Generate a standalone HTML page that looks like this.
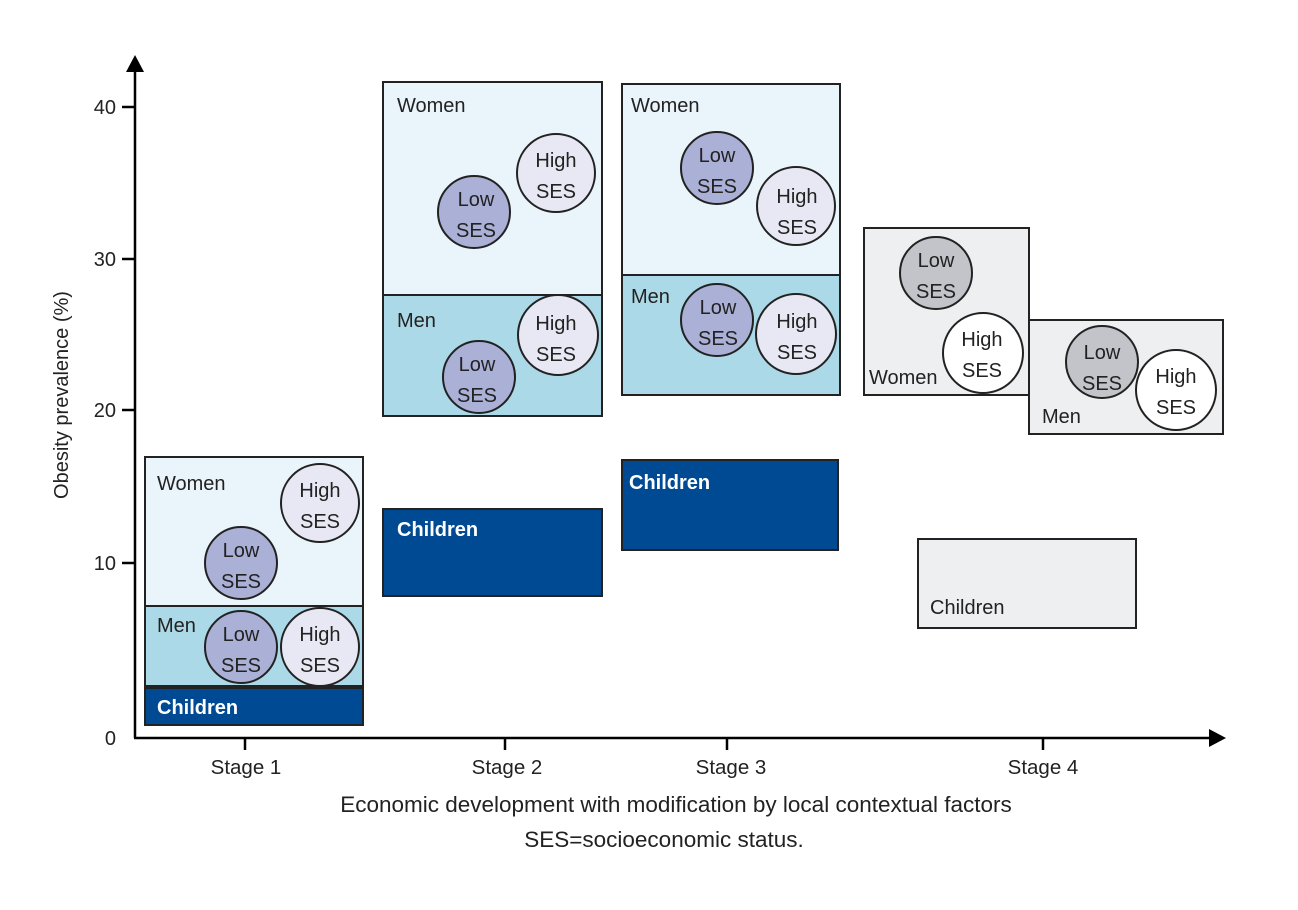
<!DOCTYPE html>
<html><head><meta charset="utf-8"><style>
html,body{margin:0;padding:0;background:#fff;}
svg{display:block;font-family:"Liberation Sans",sans-serif;}
</style></head><body>
<svg width="1298" height="910" viewBox="0 0 1298 910" xmlns="http://www.w3.org/2000/svg">
<g stroke="#000" stroke-width="2.5" fill="none">
<line x1="135" y1="70" x2="135" y2="738"/>
<line x1="134" y1="738" x2="1212" y2="738"/>
<line x1="122" y1="107" x2="135" y2="107"/>
<line x1="122" y1="259" x2="135" y2="259"/>
<line x1="122" y1="410" x2="135" y2="410"/>
<line x1="122" y1="563" x2="135" y2="563"/>
<line x1="245" y1="738" x2="245" y2="750"/>
<line x1="505" y1="738" x2="505" y2="750"/>
<line x1="727" y1="738" x2="727" y2="750"/>
<line x1="1043" y1="738" x2="1043" y2="750"/>
</g>
<polygon points="135,55 126,72 144,72" fill="#000"/>
<polygon points="1226,738 1209,729 1209,747" fill="#000"/>
<g font-size="20" fill="#222" text-anchor="end">
<text x="116" y="114">40</text><text x="116" y="266">30</text><text x="116" y="417">20</text><text x="116" y="570">10</text><text x="116" y="745">0</text>
</g>
<text transform="translate(68,395) rotate(-90)" font-size="20" text-anchor="middle" fill="#222">Obesity prevalence (%)</text>
<g font-size="20.5" fill="#222" text-anchor="middle">
<text x="246" y="774">Stage 1</text><text x="507" y="774">Stage 2</text><text x="731" y="774">Stage 3</text><text x="1043" y="774">Stage 4</text>
</g>
<g font-size="22.5" fill="#222" text-anchor="middle">
<text x="676" y="812">Economic development with modification by local contextual factors</text>
<text x="664" y="847">SES=socioeconomic status.</text>
</g>
<g stroke="#222" stroke-width="2">
<rect x="145" y="457" width="218" height="149" fill="#e9f4fb"/>
<rect x="145" y="606" width="218" height="80" fill="#acd9e7"/>
<rect x="145" y="688" width="218" height="37" fill="#004a94"/>
<rect x="383" y="82" width="219" height="213" fill="#e9f4fb"/>
<rect x="383" y="295" width="219" height="121" fill="#acd9e7"/>
<rect x="383" y="509" width="219" height="87" fill="#004a94"/>
<rect x="622" y="84" width="218" height="191" fill="#e9f4fb"/>
<rect x="622" y="275" width="218" height="120" fill="#acd9e7"/>
<rect x="622" y="460" width="216" height="90" fill="#004a94"/>
<rect x="864" y="228" width="165" height="167" fill="#eeeff1"/>
<rect x="1029" y="320" width="194" height="114" fill="#eeeff1"/>
<rect x="918" y="539" width="218" height="89" fill="#eeeff1"/>
<circle cx="320" cy="503" r="39" fill="#e8e8f4"/>
<circle cx="241" cy="563" r="36" fill="#aab0d6"/>
<circle cx="241" cy="647" r="36" fill="#aab0d6"/>
<circle cx="320" cy="647" r="39" fill="#e8e8f4"/>
<circle cx="556" cy="173" r="39" fill="#e8e8f4"/>
<circle cx="474" cy="212" r="36" fill="#aab0d6"/>
<circle cx="558" cy="335" r="40" fill="#e8e8f4"/>
<circle cx="479" cy="377" r="36" fill="#aab0d6"/>
<circle cx="717" cy="168" r="36" fill="#aab0d6"/>
<circle cx="796" cy="206" r="39" fill="#e8e8f4"/>
<circle cx="717" cy="320" r="36" fill="#aab0d6"/>
<circle cx="796" cy="334" r="40" fill="#e8e8f4"/>
<circle cx="936" cy="273" r="36" fill="#c2c4c9"/>
<circle cx="983" cy="353" r="40" fill="#fff"/>
<circle cx="1102" cy="362" r="36" fill="#c2c4c9"/>
<circle cx="1176" cy="390" r="40" fill="#fff"/>
</g>
<g font-size="20" fill="#222">
<text x="157" y="490">Women</text><text x="157" y="632">Men</text>
<text x="397" y="112">Women</text><text x="397" y="327">Men</text>
<text x="631" y="112">Women</text><text x="631" y="303">Men</text>
<text x="869" y="384">Women</text><text x="1042" y="423">Men</text>
<text x="930" y="614">Children</text>
</g>
<g font-size="20" fill="#fff" font-weight="bold">
<text x="157" y="714">Children</text>
<text x="397" y="536">Children</text>
<text x="629" y="489">Children</text>
</g>
<g font-size="20" fill="#222" text-anchor="middle">
<text x="320" y="497">High</text><text x="320" y="528">SES</text>
<text x="241" y="557">Low</text><text x="241" y="588">SES</text>
<text x="241" y="641">Low</text><text x="241" y="672">SES</text>
<text x="320" y="641">High</text><text x="320" y="672">SES</text>
<text x="556" y="167">High</text><text x="556" y="198">SES</text>
<text x="476" y="206">Low</text><text x="476" y="237">SES</text>
<text x="556" y="330">High</text><text x="556" y="361">SES</text>
<text x="477" y="371">Low</text><text x="477" y="402">SES</text>
<text x="717" y="162">Low</text><text x="717" y="193">SES</text>
<text x="797" y="203">High</text><text x="797" y="234">SES</text>
<text x="718" y="314">Low</text><text x="718" y="345">SES</text>
<text x="797" y="328">High</text><text x="797" y="359">SES</text>
<text x="936" y="267">Low</text><text x="936" y="298">SES</text>
<text x="982" y="346">High</text><text x="982" y="377">SES</text>
<text x="1102" y="359">Low</text><text x="1102" y="390">SES</text>
<text x="1176" y="383">High</text><text x="1176" y="414">SES</text>
</g>
</svg>
</body></html>
